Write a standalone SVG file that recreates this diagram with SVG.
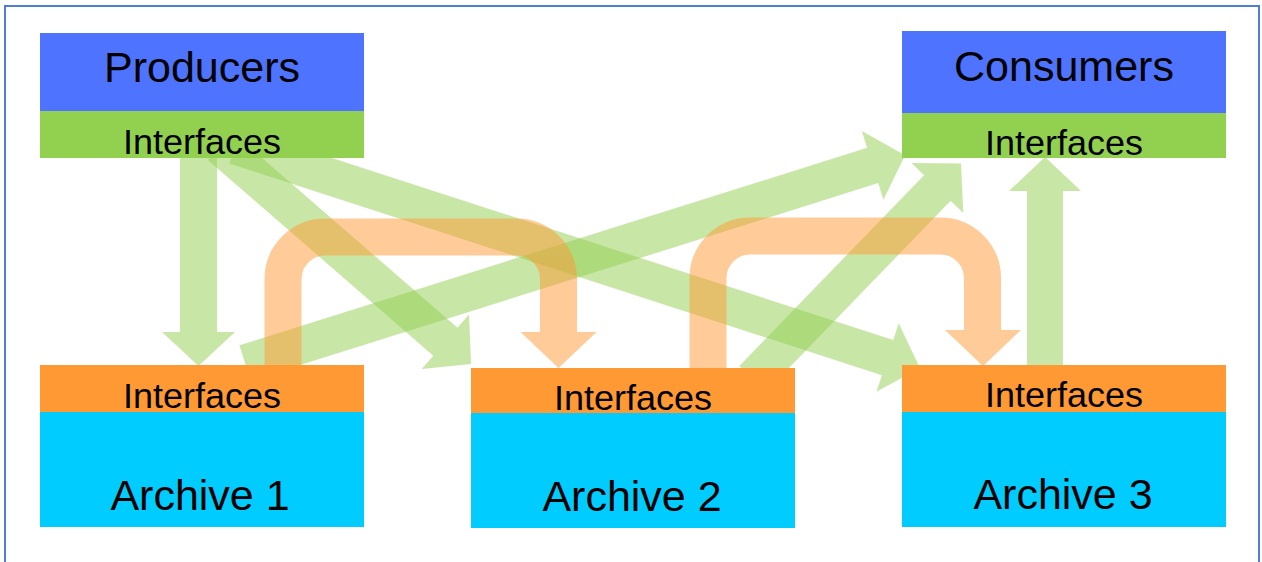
<svg xmlns="http://www.w3.org/2000/svg" width="1262" height="562" viewBox="0 0 1262 562">
  <style>
    .frame { fill: #ffffff; stroke: #4f7fd3; stroke-width: 2; }
    .title { fill: #4e73fe; }
    .iface-g { fill: #92d050; }
    .iface-o { fill: #ff9933; }
    .store { fill: #00ccff; }
    .lbl { font-family: "Liberation Sans", Arial, sans-serif; fill: #000000; text-anchor: middle; }
    .big { font-size: 43px; }
    .mid { font-size: 35px; }
    .flow-g { fill: #92d050; opacity: 0.5; }
    .flow-o { opacity: 0.5; }
    .flow-o path.bend { fill: none; stroke: #ff9933; stroke-width: 37; }
    .flow-o path.head { fill: #ff9933; }
  </style>
  <defs>
    <!-- block arrow along +x: shaft 37 wide, head 72 wide and 34 long; length set per use -->
  </defs>

  <rect class="frame" x="5" y="6" width="1254" height="600"/>

  <g id="connectors">
    <!-- green data flows -->
    <path id="flow-prod-a1" class="flow-g" d="M180,150 H217 V332 H235 L198.5,366 L162,332 H180 Z"/>
    <path id="flow-prod-a2" class="flow-g" transform="translate(220,146) rotate(40.97)"
          d="M0,-18.5 H298.5 V-36 L332.5,0 L298.5,36 V18.5 H0 Z"/>
    <path id="flow-prod-a3" class="flow-g" transform="translate(235,146) rotate(17.96)"
          d="M0,-18.5 H686 V-36 L720,0 L686,36 V18.5 H0 Z"/>
    <path id="flow-a1-cons" class="flow-g" transform="translate(245,363) rotate(-17.47)"
          d="M0,-18.5 H658 V-36 L692,0 L658,36 V18.5 H0 Z"/>
    <path id="flow-a2-cons" class="flow-g" transform="translate(752.6,378.8) rotate(-45.92)"
          d="M0,-18.5 H265.6 V-36 L299.6,0 L265.6,36 V18.5 H0 Z"/>
    <path id="flow-a3-cons" class="flow-g" d="M1027,378 H1063 V191 H1081 L1045,157 L1009,191 H1027 Z"/>

    <!-- orange archive-to-archive transfers -->
    <g id="flow-a1-a2" class="flow-o">
      <path class="bend" d="M283,378 V279 A42,42 0 0 1 325,237 H516.5 A42,42 0 0 1 558.5,279 V333"/>
      <path class="head" d="M520.5,332 H596.5 L558.5,368 Z"/>
    </g>
    <g id="flow-a2-a3" class="flow-o">
      <path class="bend" d="M708,378 V278 A42,42 0 0 1 750,236 H940.5 A42,42 0 0 1 982.5,278 V331"/>
      <path class="head" d="M945,330 H1021 L983,366 Z"/>
    </g>
  </g>

  <g id="producers">
    <rect class="title" x="40" y="33" width="324" height="78"/>
    <rect class="iface-g" x="40" y="111" width="324" height="47"/>
    <text class="lbl big" x="202" y="82">Producers</text>
    <text class="lbl mid" x="202" y="154" textLength="158" lengthAdjust="spacingAndGlyphs">Interfaces</text>
  </g>

  <g id="consumers">
    <rect class="title" x="902" y="31" width="324" height="82"/>
    <rect class="iface-g" x="902" y="113" width="324" height="45"/>
    <text class="lbl big" x="1064" y="81">Consumers</text>
    <text class="lbl mid" x="1064" y="155" textLength="158" lengthAdjust="spacingAndGlyphs">Interfaces</text>
  </g>

  <g id="archive1">
    <rect class="iface-o" x="40" y="365" width="324" height="47"/>
    <rect class="store" x="40" y="412" width="324" height="115"/>
    <text class="lbl mid" x="202" y="408" textLength="158" lengthAdjust="spacingAndGlyphs">Interfaces</text>
    <text class="lbl big" x="200" y="510">Archive 1</text>
  </g>

  <g id="archive2">
    <rect class="iface-o" x="471" y="368" width="324" height="45"/>
    <rect class="store" x="471" y="413" width="324" height="115"/>
    <text class="lbl mid" x="633" y="410" textLength="158" lengthAdjust="spacingAndGlyphs">Interfaces</text>
    <text class="lbl big" x="632" y="511">Archive 2</text>
  </g>

  <g id="archive3">
    <rect class="iface-o" x="902" y="365" width="324" height="47"/>
    <rect class="store" x="902" y="412" width="324" height="115"/>
    <text class="lbl mid" x="1064" y="407" textLength="158" lengthAdjust="spacingAndGlyphs">Interfaces</text>
    <text class="lbl big" x="1063" y="509">Archive 3</text>
  </g>
</svg>
